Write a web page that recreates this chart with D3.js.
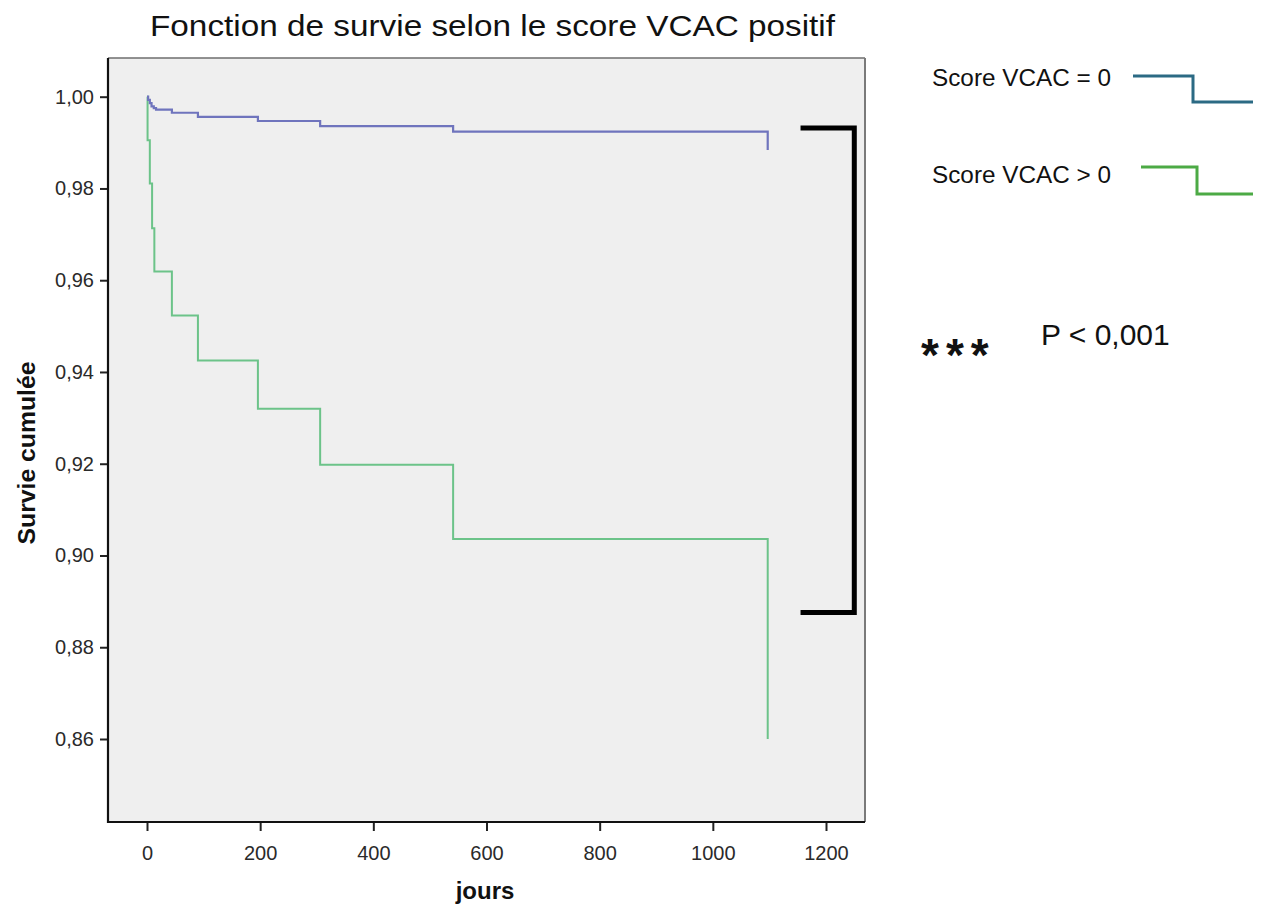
<!DOCTYPE html>
<html>
<head>
<meta charset="utf-8">
<script src="https://cdn.jsdelivr.net/npm/d3@7"></script>
<style>
  html, body { margin: 0; padding: 0; background: #ffffff; }
  svg { display: block; }
  text { font-family: "Liberation Sans", Arial, Helvetica, sans-serif; }
  .axis text { font-size: 20px; }
</style>
</head>
<body>
<svg id="chart" width="1264" height="909"></svg>
<script>
// ---- data ----
const seriesNames = ["Score VCAC = 0", "Score VCAC > 0"];
// days at which the Kaplan–Meier curve steps, and cumulative survival after the step
const vcac0Days     = [0, 2, 5, 8, 12, 16, 44, 90, 196, 306, 541, 1097];
const vcac0Survival = [1.0, 0.9993, 0.9986, 0.9979, 0.9975, 0.9972, 0.9965, 0.9956, 0.9947, 0.9936, 0.9924, 0.9884];
const vcacPosDays     = [0, 1, 5, 9, 13, 44, 90, 196, 306, 541, 1097];
const vcacPosSurvival = [1.0, 0.9905, 0.9811, 0.9713, 0.9619, 0.9523, 0.9425, 0.9320, 0.9198, 0.9036, 0.860];
const xTicks = [0, 200, 400, 600, 800, 1000, 1200];
const yTicks = [0.86, 0.88, 0.90, 0.92, 0.94, 0.96, 0.98, 1.00];
const bracketSurvival = [0.9932, 0.8876];
const bracketDays = [1155, 1250];
const titleText = "Fonction de survie selon le score VCAC positif";
const xLabel = "jours";
const yLabel = "Survie cumulée";
const pText = "P < 0,001";
const starText = "***";

// ---- layout ----
const svg = d3.select("#chart");
const frame = { left: 108, right: 865, top: 58, bottom: 822 };
const x = d3.scaleLinear().domain([0, 1200]).range([147, 826]);
const y = d3.scaleLinear().domain([0.86, 1.0]).range([739, 96.7]);

const colBlue = "#6f74bd";
const colGreen = "#6cc389";

// plot background
svg.append("rect")
  .attr("x", frame.left).attr("y", frame.top)
  .attr("width", frame.right - frame.left).attr("height", frame.bottom - frame.top)
  .attr("fill", "#efefef");

// frame: top/right grey, left/bottom black
svg.append("line").attr("x1", frame.left).attr("x2", frame.right).attr("y1", frame.top).attr("y2", frame.top)
  .attr("stroke", "#6e6e6e").attr("stroke-width", 1.5);
svg.append("line").attr("x1", frame.right).attr("x2", frame.right).attr("y1", frame.top).attr("y2", frame.bottom)
  .attr("stroke", "#7a7a7a").attr("stroke-width", 2);

// axes
const fmt = d => d3.format(".2f")(d).replace(".", ",");
const yAxis = svg.append("g").attr("class", "axis").attr("transform", `translate(${frame.left},0)`)
  .call(d3.axisLeft(y).tickValues(yTicks).tickFormat(fmt).tickSize(8).tickPadding(6));
const xAxis = svg.append("g").attr("class", "axis").attr("transform", `translate(0,${frame.bottom})`)
  .call(d3.axisBottom(x).tickValues(xTicks).tickFormat(d3.format("d")).tickSize(9).tickPadding(15));
[yAxis, xAxis].forEach(g => {
  g.attr("font-size", 20).attr("font-family", "'Liberation Sans', Arial, sans-serif");
  g.select(".domain").remove();
  g.selectAll(".tick line").attr("stroke", "#222").attr("stroke-width", 2);
  g.selectAll(".tick text").attr("fill", "#2a2a2a").attr("font-size", 20);
});
svg.append("line").attr("x1", frame.left).attr("x2", frame.left).attr("y1", frame.top).attr("y2", frame.bottom + 1)
  .attr("stroke", "#111").attr("stroke-width", 2.2);
svg.append("line").attr("x1", frame.left - 1).attr("x2", frame.right).attr("y1", frame.bottom).attr("y2", frame.bottom)
  .attr("stroke", "#111").attr("stroke-width", 2.2);

// KM step curves
const line = d3.line().x(d => x(d[0])).y(d => y(d[1])).curve(d3.curveStepAfter);
const blueData = vcac0Days.map((d, i) => [d, vcac0Survival[i]]);
const greenData = vcacPosDays.map((d, i) => [d, vcacPosSurvival[i]]);
svg.append("path").datum(greenData).attr("d", line)
  .attr("fill", "none").attr("stroke", colGreen).attr("stroke-width", 2);
svg.append("path").datum(blueData).attr("d", line)
  .attr("fill", "none").attr("stroke", colBlue).attr("stroke-width", 2.2);

// significance bracket
const bx0 = x(bracketDays[0]), bx1 = x(bracketDays[1]);
const by0 = y(bracketSurvival[0]), by1 = y(bracketSurvival[1]);
svg.append("path")
  .attr("d", `M${bx0},${by0} H${bx1} V${by1} H${bx0}`)
  .attr("fill", "none").attr("stroke", "#000").attr("stroke-width", 5).attr("stroke-linejoin", "miter");

// title
svg.append("text").attr("x", 150).attr("y", 36)
  .attr("textLength", 685).attr("lengthAdjust", "spacingAndGlyphs")
  .style("font-size", "29px").attr("fill", "#111").text(titleText);

// axis titles
svg.append("text").attr("x", 485).attr("y", 899).attr("text-anchor", "middle")
  .style("font-size", "24px").style("font-weight", "bold").attr("fill", "#111").text(xLabel);
svg.append("text").attr("transform", "translate(35,453) rotate(-90)").attr("text-anchor", "middle")
  .attr("textLength", 183).attr("lengthAdjust", "spacingAndGlyphs")
  .style("font-size", "24px").style("font-weight", "bold").attr("fill", "#111").text(yLabel);

// legend
const legend = [
  { name: seriesNames[0], color: "#2b6a84", ty: 86, lx0: 1133, lx1: 1193, ly0: 76, ly1: 102 },
  { name: seriesNames[1], color: "#4caa45", ty: 183, lx0: 1141, lx1: 1197, ly0: 167, ly1: 194 }
];
legend.forEach(l => {
  svg.append("text").attr("x", 932).attr("y", l.ty)
    .attr("textLength", 179).attr("lengthAdjust", "spacingAndGlyphs")
    .style("font-size", "23px").attr("fill", "#111").text(l.name);
  svg.append("path").attr("d", `M${l.lx0},${l.ly0} H${l.lx1} V${l.ly1} H1253`)
    .attr("fill", "none").attr("stroke", l.color).attr("stroke-width", 3);
});

// p-value annotation
svg.append("text").attr("x", 1041).attr("y", 345)
  .style("font-size", "30px").attr("fill", "#111").text(pText);
svg.append("text").attr("x", 921).attr("y", 371)
  .style("letter-spacing", "7px")
  .style("font-size", "46px").style("font-weight", "bold").attr("fill", "#111").text(starText);
</script>
</body>
</html>
